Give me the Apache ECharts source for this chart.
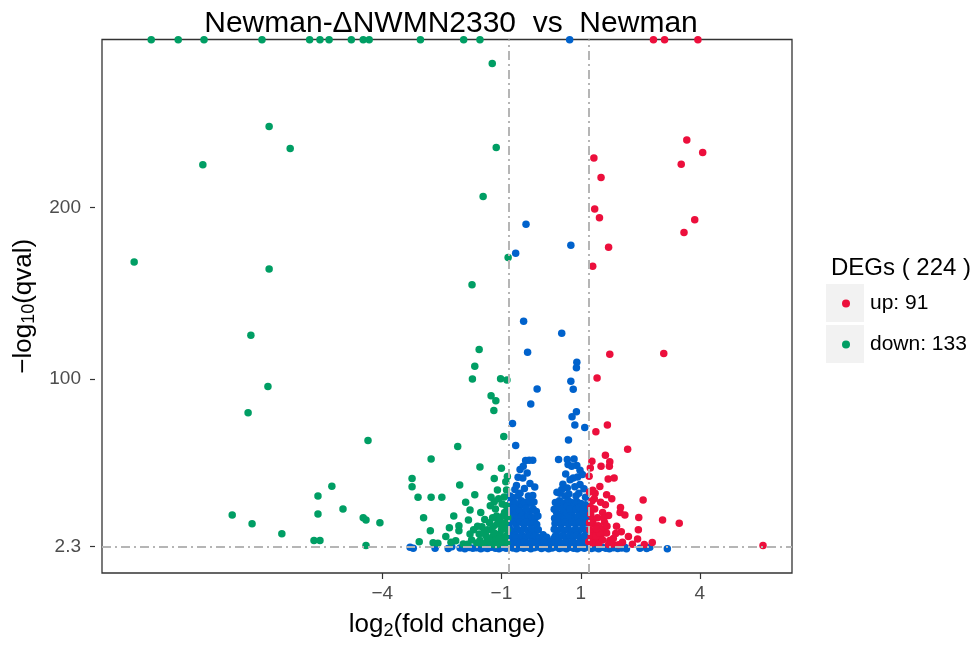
<!DOCTYPE html>
<html>
<head>
<meta charset="utf-8">
<title>Volcano plot</title>
<script src="https://cdn.jsdelivr.net/npm/echarts@6/dist/echarts.min.js"></script>
<style>
  html, body { margin: 0; padding: 0; background: #fff; }
  #chart { width: 977px; height: 645px; }
</style>
</head>
<body>
<div id="chart"></div>
<script>
// Significantly up-regulated genes: [log2 fold change, -log10 q]
const upPoints = [
  [2.83, 298], [3.11, 298], [3.95, 298],
  [3.67, 239.5], [4.07, 232.2], [1.33, 228.9], [3.53, 225.3], [1.51, 217.5],
  [1.35, 199.2], [1.47, 194.0], [3.87, 192.9], [3.60, 185.5], [1.70, 176.9],
  [1.30, 165.7], [1.73, 114.4], [3.09, 114.8], [1.41, 100.5], [1.67, 73.1],
  [1.38, 69.1], [2.18, 59.0], [1.62, 55.4], [1.28, 51.9], [1.73, 51.7],
  [1.51, 49.0], [1.72, 49.0], [1.21, 43.2], [1.69, 41.6], [1.84, 42.2],
  [1.48, 37.2], [1.36, 33.2], [1.65, 32.4], [1.28, 28.7], [2.57, 29.3],
  [1.62, 26.6], [1.25, 21.0], [1.70, 20.2], [1.99, 22.0], [2.11, 20.6],
  [2.46, 19.1], [3.06, 17.7], [3.48, 15.8], [1.31, 15.6], [1.44, 14.3],
  [1.57, 12.4], [1.33, 10.4], [1.52, 9.5], [1.65, 10.1], [2.02, 10.8],
  [1.31, 6.9], [1.48, 6.2], [1.73, 5.6], [1.82, 6.9], [2.43, 6.6],
  [2.05, 4.6], [1.80, 3.7], [1.40, 4.6], [5.59, 2.7],
  [1.25, 25.0], [1.30, 18.0], [1.23, 12.0], [1.26, 8.0], [1.35, 24.0],
  [1.42, 19.0], [1.22, 34.0], [1.55, 22.0], [1.38, 8.2], [1.45, 3.5],
  [1.28, 4.0], [1.60, 16.0], [1.50, 28.0], [1.30, 35.0], [1.55, 6.0],
  [1.90, 14.0], [2.20, 8.0], [2.30, 3.5], [1.95, 3.2], [2.60, 3.4],
  [2.80, 4.5], [1.34, 30.0], [1.58, 18.5], [1.47, 10.0], [1.78, 30.0],
  [1.39, 12.5], [1.22, 16.0], [1.20, 5.0], [1.66, 14.0], [1.88, 9.8],
  [2.00, 25.0], [1.70, 3.3], [2.45, 12.0], [1.24, 48.0]
];

// Significantly down-regulated genes
const downPoints = [
  [-9.82, 298], [-9.14, 298], [-8.49, 298], [-7.03, 298], [-5.83, 298],
  [-5.57, 298], [-5.34, 298], [-4.78, 298], [-4.48, 298], [-4.33, 298],
  [-3.04, 298], [-1.95, 298], [-1.54, 298],
  [-6.85, 247.3], [-6.32, 234.5], [-8.52, 225.0], [-10.25, 168.2],
  [-6.85, 164.1], [-7.31, 125.4], [-6.88, 95.5],
  [-7.38, 80.2], [-4.36, 64.0], [-5.27, 37.4], [-5.62, 31.6], [-4.99, 24.1],
  [-4.48, 18.9], [-4.41, 17.7], [-5.62, 21.2], [-7.78, 20.6], [-7.28, 15.4],
  [-6.53, 9.6], [-5.72, 5.6], [-5.57, 5.6], [-4.41, 2.7], [-4.06, 16.0],
  [-1.23, 284.1], [-1.13, 235.1], [-1.46, 206.5], [-0.83, 170.9], [-1.74, 154.9],
  [-1.56, 117.1], [-1.67, 107.4], [-1.73, 99.9], [-1.02, 100.1], [-0.86, 99.3],
  [-1.26, 90.1], [-1.14, 87.2], [-1.19, 81.6],
  [-0.94, 66.4], [-2.10, 60.6], [-2.77, 53.2], [-1.54, 48.6], [-1.00, 47.8],
  [-3.25, 41.9], [-3.25, 37.0], [-1.18, 41.9], [-2.05, 38.0], [-0.89, 39.9],
  [-1.10, 35.1], [-0.87, 35.1], [-3.10, 30.9], [-2.77, 30.9], [-2.50, 30.9],
  [-1.67, 32.4], [-1.26, 30.9], [-1.18, 28.3], [-1.07, 30.1], [-1.79, 23.5],
  [-2.96, 18.9], [-1.83, 17.6], [-1.04, 17.7], [-0.95, 20.1], [-1.10, 15.3],
  [-1.49, 13.7], [-2.31, 13.1], [-2.07, 14.3], [-2.07, 11.4], [-2.79, 11.4],
  [-1.26, 12.0], [-1.79, 9.5], [-1.56, 9.5], [-1.39, 8.5], [-1.20, 8.5],
  [-1.04, 9.5], [-3.07, 5.0], [-2.72, 4.3], [-2.27, 4.6], [-1.96, 3.7],
  [-1.54, 5.6], [-1.37, 5.0], [-1.16, 5.6], [-0.95, 6.2], [-1.46, 3.7],
  [-1.25, 3.7], [-1.08, 3.7],
  [-0.88, 26.0], [-0.92, 22.0], [-0.90, 16.0], [-0.86, 12.0], [-0.90, 8.0],
  [-0.87, 4.0], [-0.98, 27.0], [-1.00, 12.0], [-1.02, 4.5], [-1.12, 20.0],
  [-1.15, 24.0], [-1.08, 18.0], [-1.20, 14.0], [-1.18, 10.0], [-1.22, 19.0],
  [-1.30, 16.0], [-1.32, 7.0], [-1.35, 12.0], [-1.42, 18.0], [-1.45, 10.0],
  [-1.60, 14.0], [-1.62, 4.2], [-1.70, 12.0], [-1.75, 6.0], [-1.85, 3.5],
  [-2.15, 5.5], [-2.40, 8.0], [-2.60, 4.0], [-1.28, 26.0], [-0.93, 31.0],
  [-0.84, 19.0], [-0.96, 14.0], [-1.06, 6.5], [-1.14, 3.2], [-1.52, 22.0],
  [-1.90, 28.0], [-2.20, 20.0], [-0.85, 43.0]
];

// Genes that pass neither cut-off
const nsPoints = [
  [0.72, 298], [-0.38, 190.2], [0.75, 178.0], [-0.64, 173.4], [-0.44, 133.6],
  [0.52, 126.7], [-0.34, 115.5], [0.90, 109.7], [0.89, 106.5], [0.75, 98.6],
  [0.81, 94.0], [-0.10, 94.1], [-0.26, 85.4], [0.89, 80.8], [0.78, 77.9],
  [-0.72, 74.0], [0.85, 73.1], [1.10, 71.7], [0.69, 64.4], [-0.64, 61.1],
  [-0.39, 52.3], [-0.30, 52.5], [-0.21, 52.5], [-0.45, 49.0], [-0.53, 47.1],
  [0.44, 52.9], [0.66, 52.9], [0.83, 53.2], [0.68, 50.0], [0.77, 49.0],
  [0.90, 49.4], [0.98, 46.7], [1.04, 44.2], [0.81, 42.1], [-0.46, 42.1],
  [0.98, 38.4], [-0.62, 37.8], [0.52, 35.5], [0.47, 33.2], [0.60, 31.6],
  [0.88, 31.6], [0.95, 33.2], [-0.53, 33.2], [-0.32, 31.6], [-0.21, 32.0],
  [-0.78, 31.6], [-0.70, 30.6], [-0.58, 31.6], [0.77, 27.8], [0.81, 24.9],
  [-0.36, 26.8], [-0.24, 27.4], [-0.53, 25.8], [-0.74, 24.9], [-0.62, 23.4],
  [-0.45, 22.0], [-0.28, 22.9], [0.39, 22.0], [0.52, 21.0], [0.64, 22.0],
  [0.77, 21.6], [0.98, 21.0], [1.10, 20.1],
  [-0.76, 28.5], [-0.66, 27.6], [-0.50, 28.9], [-0.42, 27.9], [-0.30, 29.1], [-0.18, 28.2],
  [-0.79, 23.1], [-0.69, 24.6], [-0.56, 22.6], [-0.38, 24.3], [-0.20, 24.0], [-0.12, 22.6],
  [-0.77, 19.6], [-0.67, 20.4], [-0.59, 18.9], [-0.49, 19.8], [-0.40, 18.6],
  [-0.33, 20.1], [-0.24, 19.2], [-0.15, 18.8], [-0.08, 19.9],
  [-0.80, 15.8], [-0.72, 16.5], [-0.63, 15.1], [-0.54, 16.4], [-0.44, 15.2],
  [-0.36, 16.3], [-0.27, 15.4], [-0.19, 16.1], [-0.11, 15.0],
  [-0.78, 12.4], [-0.70, 11.2], [-0.60, 12.3], [-0.51, 11.4], [-0.42, 12.5],
  [-0.33, 11.3], [-0.24, 12.2], [-0.16, 11.1], [-0.07, 12.0],
  [-0.80, 8.3], [-0.74, 7.6], [-0.65, 8.6], [-0.56, 7.5], [-0.47, 8.4],
  [-0.38, 7.7], [-0.29, 8.5], [-0.20, 7.4], [-0.12, 8.2], [-0.04, 7.3],
  [-0.79, 4.6], [-0.70, 4.0], [-0.61, 4.9], [-0.52, 4.2], [-0.43, 4.8],
  [-0.34, 4.1], [-0.25, 4.7], [-0.16, 4.0], [-0.07, 4.5], [0.02, 4.2],
  [0.05, 9.0], [0.14, 7.5], [0.32, 6.8], [0.08, 4.8], [0.18, 3.9], [0.25, 5.0], [0.12, 3.4],
  [0.36, 27.9], [0.46, 28.8], [0.57, 27.4], [0.68, 29.0], [0.90, 28.3], [1.00, 27.2], [1.12, 26.5],
  [0.33, 23.9], [0.43, 25.2], [0.55, 24.4], [0.65, 25.6], [0.72, 24.1],
  [0.88, 23.7], [0.96, 25.0], [1.06, 24.0], [1.15, 23.2],
  [0.34, 18.6], [0.45, 19.4], [0.58, 18.4], [0.70, 19.0], [0.85, 18.8],
  [0.92, 19.7], [1.04, 18.1], [1.15, 19.5],
  [0.35, 15.6], [0.43, 16.4], [0.51, 15.2], [0.60, 16.5], [0.69, 15.3],
  [0.78, 16.2], [0.87, 15.1], [0.96, 16.3], [1.05, 15.4], [1.14, 16.0],
  [0.33, 12.2], [0.41, 11.3], [0.50, 12.4], [0.59, 11.5], [0.68, 12.3],
  [0.77, 11.2], [0.86, 12.1], [0.95, 11.4], [1.04, 12.5], [1.13, 11.6],
  [0.36, 8.3], [0.45, 7.5], [0.54, 8.5], [0.63, 7.6], [0.72, 8.4],
  [0.81, 7.7], [0.90, 8.6], [0.99, 7.4], [1.08, 8.2], [1.16, 7.6],
  [0.34, 4.4], [0.43, 4.9], [0.52, 4.1], [0.61, 4.8], [0.70, 4.3],
  [0.79, 4.9], [0.88, 4.0], [0.97, 4.7], [1.06, 4.2], [1.15, 4.8],
  [0.40, 33.8], [0.55, 38.5], [0.66, 36.3], [0.73, 41.2], [0.85, 37.0],
  [1.08, 35.9], [0.62, 44.5], [0.92, 42.8], [1.12, 30.9], [0.70, 32.8],
  [-0.66, 35.4], [-0.42, 36.0], [-0.28, 38.9], [-0.58, 42.6], [-0.35, 45.1], [-0.16, 36.9],
  [-3.30, 1.7], [-3.22, 1.1], [-2.67, 1.2], [-2.34, 1.0], [-2.25, 2.0],
  [-2.04, 1.3], [-1.92, 0.9], [-1.81, 1.6], [-1.72, 1.1], [-1.63, 1.4],
  [-1.52, 0.8], [-1.44, 1.5], [-1.35, 1.0], [-1.26, 1.7], [-1.15, 1.2],
  [-1.06, 0.9], [-0.97, 1.6], [-0.88, 1.1], [-0.80, 1.9], [-0.71, 1.3],
  [-0.62, 0.8], [-0.53, 1.6], [-0.44, 1.1], [-0.35, 1.8], [-0.26, 0.9],
  [-0.17, 1.4], [-0.08, 1.9], [0.01, 1.0], [0.10, 1.6], [0.19, 0.8],
  [0.28, 1.3], [0.37, 1.9], [0.46, 1.0], [0.55, 1.5], [0.64, 0.9],
  [0.73, 1.8], [0.82, 1.2], [0.91, 0.8], [1.00, 1.6], [1.09, 1.1],
  [1.18, 1.9], [1.27, 1.0], [1.36, 1.4], [1.45, 0.8], [1.54, 1.7],
  [1.63, 1.1], [1.72, 0.9], [1.82, 1.5], [1.93, 1.0], [2.03, 1.3],
  [2.11, 1.8], [2.15, 0.8], [2.49, 1.1], [2.66, 1.0], [2.74, 1.7], [3.18, 0.8]
];

// Axis ticks and cut-offs
const xTicks = [-4, -1, 1, 4];
const yTicks = [2.3, 100, 200];
const foldCuts = [-0.81, 1.19];
const qCut = 2.3;

const FONT = '"Liberation Sans", Arial, Helvetica, sans-serif';
const COLORS = { up: '#EC0F3C', down: '#009E64', ns: '#0062CC' };
const DOT = 7.5;

const chart = echarts.init(document.getElementById('chart'), null, { renderer: 'canvas' });

const legendBase = {
  orient: 'vertical',
  left: 842,
  padding: 0,
  icon: 'circle',
  itemWidth: 8,
  itemHeight: 8,
  selectedMode: false,
  textStyle: { fontFamily: FONT, fontSize: 21, color: '#000', padding: [0, 0, 0, 15] }
};

const option = {
  animation: false,
  backgroundColor: '#fff',
  textStyle: { fontFamily: FONT },
  title: [
    {
      text: 'Newman-ΔNWMN2330  vs  Newman',
      left: 446, top: 4, textAlign: 'center',
      textStyle: { fontFamily: FONT, fontSize: 30, fontWeight: 'normal', color: '#000' }
    },
    {
      text: 'DEGs ( ' + (upPoints.length + downPoints.length) + ' )',
      left: 826, top: 251,
      textStyle: { fontFamily: FONT, fontSize: 24, fontWeight: 'normal', color: '#000' }
    }
  ],
  legend: [
    Object.assign({}, legendBase, {
      top: 293, data: ['up'],
      formatter: () => 'up: ' + upPoints.length
    }),
    Object.assign({}, legendBase, {
      top: 334, data: ['down'],
      formatter: () => 'down: ' + downPoints.length
    })
  ],
  graphic: [
    { type: 'rect', z: 0, shape: { x: 826, y: 284, width: 38, height: 38 }, style: { fill: '#F2F2F2' } },
    { type: 'rect', z: 0, shape: { x: 826, y: 325, width: 38, height: 38 }, style: { fill: '#F2F2F2' } }
  ],
  grid: {
    left: 102, right: 185, top: 39.5, bottom: 67.3,
    show: true, borderColor: '#333', borderWidth: 1.3, backgroundColor: '#fff'
  },
  xAxis: {
    type: 'value', min: -11.06, max: 6.32, position: 'bottom',
    axisLine: { show: false, onZero: false },
    splitLine: { show: false },
    axisTick: { show: true, customValues: xTicks, length: 6, lineStyle: { color: '#333', width: 1.2 } },
    axisLabel: {
      customValues: xTicks, fontSize: 19, color: '#4D4D4D', margin: 11, fontFamily: FONT,
      formatter: v => (v < 0 ? '\u2212' + Math.abs(v) : String(v))
    },
    name: '{n|log}{s|2}{n|(fold change)}',
    nameLocation: 'middle', nameGap: 37,
    nameTextStyle: {
      rich: {
        n: { fontSize: 26, color: '#000', fontFamily: FONT },
        s: { fontSize: 18, color: '#000', fontFamily: FONT, padding: [12, 0, 0, 0] }
      }
    }
  },
  yAxis: {
    type: 'value', min: -13.3, max: 298.1, offset: 7, position: 'left',
    axisLine: { show: false, onZero: false },
    splitLine: { show: false },
    axisTick: { show: true, customValues: yTicks, length: 5, lineStyle: { color: '#333', width: 1.2 } },
    axisLabel: { customValues: yTicks, fontSize: 19, color: '#4D4D4D', margin: 14, fontFamily: FONT },
    name: '{n|\u2212log}{s|10}{n|(qval)}',
    nameLocation: 'middle', nameGap: 48,
    nameTextStyle: {
      rich: {
        n: { fontSize: 26, color: '#000', fontFamily: FONT },
        s: { fontSize: 18, color: '#000', fontFamily: FONT, padding: [12, 0, 0, 0] }
      }
    }
  },
  series: [
    {
      name: 'cutoffs', type: 'scatter', data: [], z: 1, silent: true,
      markLine: {
        silent: true, symbol: ['none', 'none'], label: { show: false }, animation: false,
        lineStyle: { color: '#B5B5B5', width: 2, type: [9, 4, 2, 4] },
        emphasis: { disabled: true },
        data: [{ xAxis: foldCuts[0] }, { xAxis: foldCuts[1] }, { yAxis: qCut }]
      }
    },
    {
      name: 'ns', type: 'scatter', data: nsPoints, z: 2,
      symbol: 'circle', symbolSize: DOT, itemStyle: { color: COLORS.ns, opacity: 1 }
    },
    {
      name: 'down', type: 'scatter', data: downPoints, z: 3,
      symbol: 'circle', symbolSize: DOT, itemStyle: { color: COLORS.down, opacity: 1 }
    },
    {
      name: 'up', type: 'scatter', data: upPoints, z: 3,
      symbol: 'circle', symbolSize: DOT, itemStyle: { color: COLORS.up, opacity: 1 }
    }
  ]
};

chart.setOption(option);
</script>
</body>
</html>
